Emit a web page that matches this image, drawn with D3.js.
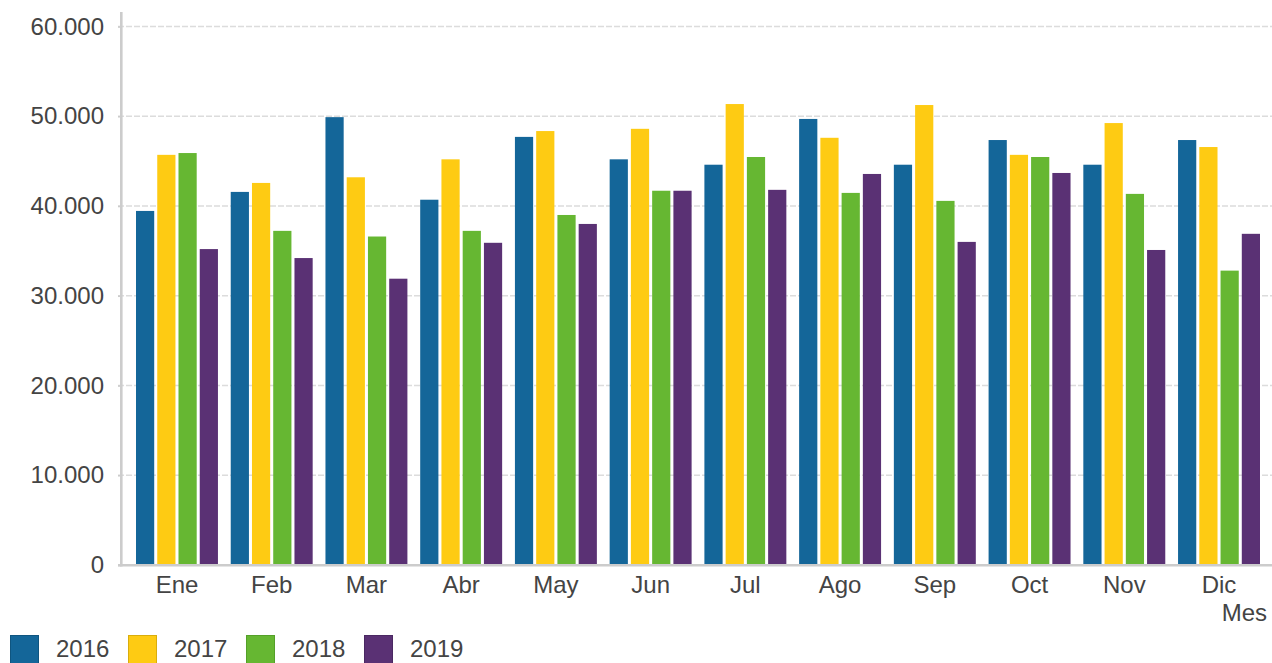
<!DOCTYPE html>
<html>
<head>
<meta charset="utf-8">
<script src="https://cdn.jsdelivr.net/npm/d3@7"></script>
<style>
  html, body { margin: 0; padding: 0; background: #fff; }
  svg { display: block; font-family: "Liberation Sans", Arial, sans-serif; }
</style>
</head>
<body>
<svg id="chart" width="1272" height="663"></svg>
<script>
const months = ["Ene","Feb","Mar","Abr","May","Jun","Jul","Ago","Sep","Oct","Nov","Dic"];
const years = ["2016","2017","2018","2019"];
const v2016 = [39450, 41570, 49900, 40700, 47700, 45200, 44600, 49700, 44600, 47350, 44600, 47350];
const v2017 = [45700, 42570, 43200, 45200, 48350, 48600, 51360, 47600, 51250, 45700, 49240, 46570];
const v2018 = [45900, 37230, 36600, 37230, 39000, 41700, 45460, 41460, 40570, 45460, 41350, 32800];
const v2019 = [35200, 34200, 31900, 35900, 38000, 41700, 41800, 43570, 36000, 43680, 35100, 36900];
const yTicks = [0, 10000, 20000, 30000, 40000, 50000, 60000];
const colors = ["#146699", "#FECB13", "#66B732", "#5A3174"];
const borders = ["#0f5580", "#d9ad0c", "#54a028", "#4a2862"];
const xTitle = "Mes";

const series = [v2016, v2017, v2018, v2019];
const data = months.map((m, i) => ({ month: m, values: years.map((y, j) => ({ year: y, value: series[j][i], idx: j })) }));

const svg = d3.select("#chart");
const textColor = "#444";
const fontSize = 24;

const y = d3.scaleLinear().domain([0, 60000]).range([565, 26.5]);
const x0 = d3.scaleBand().domain(months).range([136, 1260]).paddingInner(0.135).paddingOuter(0);
const x1 = d3.scaleBand().domain(years).range([0, x0.bandwidth()]).paddingInner(0.143).paddingOuter(0);
const color = d3.scaleOrdinal().domain(years).range(colors);

const locale = d3.formatLocale({ decimal: ",", thousands: ".", grouping: [3], currency: ["", "€"] });
const fmt = locale.format(",d");

// gridlines
svg.append("g").selectAll("line").data(yTicks.filter(d => d > 0)).join("line")
  .attr("x1", 118).attr("x2", 1272)
  .attr("y1", d => y(d)).attr("y2", d => y(d))
  .attr("stroke", "#dcdcdc").attr("stroke-width", 1.6).attr("stroke-dasharray", "6,2");

// bars
const groups = svg.append("g").selectAll("g").data(data).join("g")
  .attr("transform", d => `translate(${x0(d.month)},0)`);
groups.selectAll("rect").data(d => d.values).join("rect")
  .attr("x", d => x1(d.year))
  .attr("width", x1.bandwidth())
  .attr("y", d => y(d.value))
  .attr("height", d => y(0) - y(d.value))
  .attr("fill", d => color(d.year));

// y axis
const yAxis = d3.axisLeft(y).tickValues(yTicks).tickFormat(fmt).tickSize(3).tickPadding(14);
const gy = svg.append("g").attr("transform", "translate(121,0)").call(yAxis);
gy.select(".domain").remove();
gy.selectAll(".tick line").attr("stroke", "#ccc").attr("stroke-width", 1.6);
gy.selectAll("text").attr("fill", textColor).attr("font-size", fontSize).attr("font-family", "Liberation Sans, Arial, sans-serif");
svg.append("line").attr("x1", 121.3).attr("x2", 121.3).attr("y1", 12).attr("y2", 566.5)
  .attr("stroke", "#ccc").attr("stroke-width", 2.6);

// x axis
const xAxis = d3.axisBottom(x0).tickSize(0).tickPadding(11);
const gx = svg.append("g").attr("transform", `translate(0,${y(0)})`).call(xAxis);
gx.select(".domain").remove();
gx.selectAll("text").attr("fill", textColor).attr("font-size", fontSize).attr("font-family", "Liberation Sans, Arial, sans-serif");
svg.append("line").attr("x1", 118).attr("x2", 1272).attr("y1", y(0) + 0.2).attr("y2", y(0) + 0.2)
  .attr("stroke", "#ccc").attr("stroke-width", 2.6);

svg.append("text").attr("x", 1267).attr("y", 621).attr("text-anchor", "end")
  .attr("fill", textColor).attr("font-size", fontSize).text(xTitle);

// legend
const lg = svg.append("g").selectAll("g").data(years).join("g")
  .attr("transform", (d, i) => `translate(${10 + i * 118},635)`);
lg.append("rect").attr("x", 0.5).attr("y", 0.5).attr("width", 28).attr("height", 28)
  .attr("fill", d => color(d)).attr("stroke", (d, i) => borders[i]).attr("stroke-width", 1);
lg.append("text").attr("x", 46).attr("y", 22).attr("fill", textColor).attr("font-size", fontSize).text(d => d);
</script>
</body>
</html>
